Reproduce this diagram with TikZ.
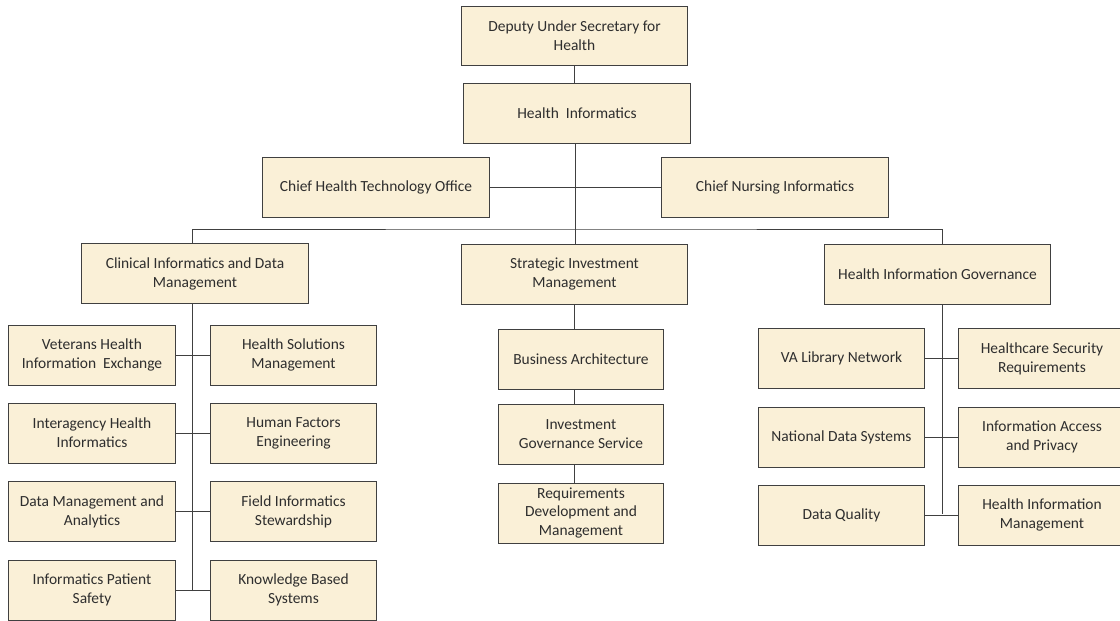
\documentclass[tikz,border=0pt]{standalone}
\usepackage{fontspec}
\setmainfont{Carlito}
\usetikzlibrary{positioning,calc,backgrounds}
\definecolor{parchment}{RGB}{250,240,215}
\definecolor{edgegray}{RGB}{64,64,64}

\begin{document}
\begin{tikzpicture}[x=0.025cm,y=-0.025cm,
    office/.style={rectangle, draw=edgegray, fill=parchment, line width=0.7pt, align=center,
      text=black!82, font=\fontsize{11}{13.5}\selectfont, minimum height=1.5cm, inner sep=2pt},
    big/.style={office, minimum width=5.67cm},
    small/.style={office, minimum width=4.15cm},
    link/.style={draw=edgegray, line width=0.7pt}]
    \useasboundingbox (0,0) rectangle (1120,620);

    % Top of the chart
    \node[big, minimum height=1.475cm] (dus) at (574.5,35.5) {Deputy Under Secretary for\\Health};
    \node[big] (hi) at (577,113) {Health\ \ Informatics};
    \node[big] (chto) at (376,187.5) {Chief Health Technology Office};
    \node[big] (cni) at (775,187.5) {Chief Nursing Informatics};

    % Three branches
    \node[big] (cidm) at (195,273.5) {Clinical Informatics and Data\\Management};
    \node[big] (sim) at (574.5,274) {Strategic Investment\\Management};
    \node[big] (hig) at (937.5,274) {Health Information\ Governance};

    % Clinical informatics units
    \node[small] (vhie) at (92,355) {Veterans Health\\Information\ \ Exchange};
    \node[small] (hsm) at (293.5,355) {Health Solutions\\Management};
    \node[small] (ihi) at (92,433) {Interagency Health\\Informatics};
    \node[small] (hfe) at (293.5,433) {Human\ Factors\\Engineering};
    \node[small] (dma) at (92,511.5) {Data Management\ and\\Analytics};
    \node[small] (fis) at (293.5,511.5) {Field Informatics\\Stewardship};
    \node[small] (ips) at (92,590) {Informatics Patient\\Safety};
    \node[small] (kbs) at (293.5,590) {Knowledge Based\\Systems};

    % Investment units
    \node[small, minimum width=4.1cm] (ba) at (581,359) {Business Architecture};
    \node[small, minimum width=4.1cm] (igs) at (581,434) {Investment\\Governance Service};
    \node[small, minimum width=4.1cm] (rdm) at (581,513) {Requirements\\Development and\\Management};

    % Governance units
    \node[small] (vln) at (841.5,358.5) {VA Library Network};
    \node[small] (hsr) at (1042,358.5) {Healthcare Security\\Requirements};
    \node[small] (nds) at (841.5,437) {National Data Systems};
    \node[small] (iap) at (1042,437) {Information\ Access\\and Privacy};
    \node[small] (dq) at (841.5,515) {Data Quality};
    \node[small] (him) at (1042,515) {Health Information\\Management};

    % Connectors, behind the boxes
    \begin{scope}[on background layer]
      \coordinate (bus) at (575,229);
      \coordinate (cidmfoot) at (192,591);
      \coordinate (higfoot) at (942,514);
      \draw[link] (dus) -- (dus |- hi.north);
      \draw[link] (hi.south -| bus) -- (bus);
      \draw[link] (chto) -- (cni);
      \draw[link] (cidmfoot) |- (bus) -| (higfoot);
      \draw[link] (bus) -- (sim.north -| bus);

      \foreach \l/\r in {vhie/hsm, ihi/hfe, dma/fis, ips/kbs}
        \draw[link] (\l.east) -- (\r.west);

      \draw[link] (sim) -- (sim |- rdm.north);

      \foreach \l/\r in {vln/hsr, nds/iap, dq/him}
        \draw[link] (\l.east) -- (\r.west);
    \end{scope}
\end{tikzpicture}
\end{document}
